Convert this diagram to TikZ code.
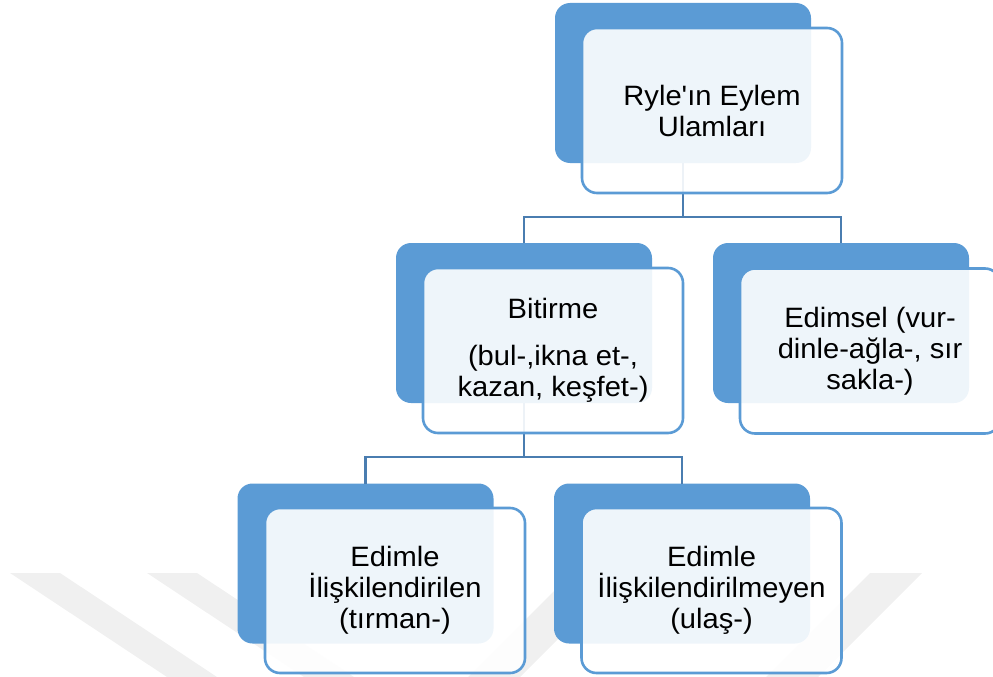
\documentclass[tikz,border=0pt]{standalone}
\usepackage{fontspec}
\setmainfont{Liberation Sans}[FakeStretch=1.04,Ligatures=TeXOff]
\definecolor{boxblue}{HTML}{5B9BD5}
\definecolor{linkblue}{HTML}{4A7DB0}
\definecolor{wmgray}{HTML}{F0F0F0}
\begin{document}
\begin{tikzpicture}[x=1pt,y=-1pt,
  backbox/.style={fill=boxblue, draw=none, rounded corners=15pt,
    minimum width=256pt, minimum height=160pt, inner sep=0pt, outer sep=0pt},
  frontbox/.style={fill=white, fill opacity=0.9, text opacity=1, draw=boxblue,
    line width=2.6pt, rounded corners=15pt, minimum width=260pt,
    minimum height=165pt, inner sep=0pt, outer sep=0pt, align=center,
    font=\fontsize{28}{31}\selectfont},
  link/.style={draw=linkblue, line width=2.6pt},
  wm/.style={fill=wmgray, draw=none}]
\useasboundingbox (0,0) rectangle (993,677);
\clip (0,0) rectangle (993,677);
% faint watermark
\fill[wm] (10,573) -- (60,573) -- (217,677) -- (167,677) -- cycle;
\fill[wm] (147,573) -- (197,573) -- (354,677) -- (304,677) -- cycle;
\fill[wm] (572,573) -- (624,573) -- (520,677) -- (468,677) -- cycle;
\fill[wm] (870,573) -- (922,573) -- (818,677) -- (766,677) -- cycle;
% back boxes
\node[backbox] (b1) at (683,83) {};
\node[backbox] (b2) at (524,323) {};
\node[backbox] (b3) at (841,323) {};
\node[backbox] (b4) at (365.5,563.5) {};
\node[backbox] (b5) at (682,563.5) {};
% connectors
\coordinate (j1) at (683,217);
\coordinate (j2) at (524,457);
\draw[link] (b1.south) -- (j1);
\draw[link] (b2.north) |- (j1) -| (b3.north);
\draw[link] (b2.south) -- (j2);
\draw[link] (b4.north) |- (j2) -| (b5.north);
% front boxes
\node[frontbox] (f1) at (712,110.5) {Ryle'ın Eylem\\Ulamları};
\node[frontbox] (f2) at (553,350.5) {Bitirme\\[16pt](bul-,ikna et-,\\kazan, keşfet-)};
\node[frontbox] (f3) at (870,351) {Edimsel (vur-\\dinle-ağla-, sır\\sakla-)};
\node[frontbox] (f4) at (395,590.5) {Edimle\\İlişkilendirilen\\(tırman-)};
\node[frontbox] (f5) at (711.5,590.5) {Edimle\\İlişkilendirilmeyen\\(ulaş-)};
\end{tikzpicture}
\end{document}
